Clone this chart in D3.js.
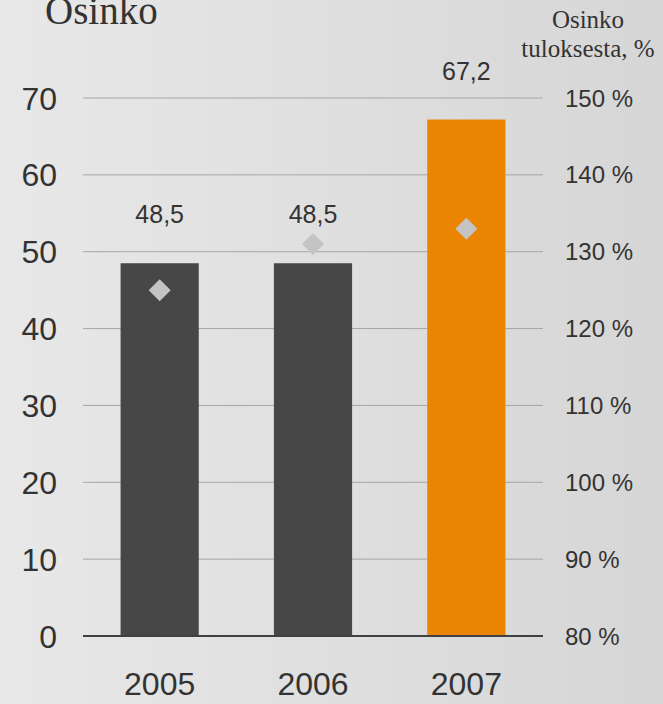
<!DOCTYPE html>
<html>
<head>
<meta charset="utf-8">
<script src="https://cdn.jsdelivr.net/npm/d3@7"></script>
<style>
  body { margin: 0; }
  svg { display: block; }
</style>
</head>
<body>
<script>
var years = ['2005', '2006', '2007'];
var osinko = [48.5, 48.5, 67.2];
var osinkoTuloksesta = [125, 131, 133];
var leftTicks = [0, 10, 20, 30, 40, 50, 60, 70];
var rightTicks = [80, 90, 100, 110, 120, 130, 140, 150];
var barColors = ['#474747', '#474747', '#eb8400'];

var W = 663, H = 704;
var svg = d3.select('body').append('svg').attr('width', W).attr('height', H);

var grad = svg.append('defs').append('linearGradient').attr('id', 'bg')
  .attr('x1', '0%').attr('x2', '100%').attr('y1', '0%').attr('y2', '0%');
grad.append('stop').attr('offset', '0%').attr('stop-color', '#e8e8e8');
grad.append('stop').attr('offset', '100%').attr('stop-color', '#d6d6d6');
svg.append('rect').attr('width', W).attr('height', H).attr('fill', 'url(#bg)');

var x = d3.scaleBand().domain(years).range([83, 543]).paddingInner(0.49).paddingOuter(0.245);
var y = d3.scaleLinear().domain([0, 70]).range([636, 98]);
var yR = d3.scaleLinear().domain([80, 150]).range([636, 98]);

// grid
svg.selectAll('line.grid')
   .data(leftTicks.slice(1)).enter().append('line')
   .attr('class', 'grid')
   .attr('x1', 83).attr('x2', 543)
   .attr('y1', d => y(d)).attr('y2', d => y(d))
   .attr('stroke', '#a6a6a6').attr('stroke-width', 1);

// bars
svg.selectAll('rect.bar')
   .data(osinko).enter().append('rect')
   .attr('class', 'bar')
   .attr('x', (d, i) => x(years[i]))
   .attr('y', d => y(d))
   .attr('width', x.bandwidth())
   .attr('height', d => y(0) - y(d))
   .attr('fill', (d, i) => barColors[i]);

// baseline
svg.append('line')
   .attr('x1', 83).attr('x2', 543)
   .attr('y1', y(0)).attr('y2', y(0))
   .attr('stroke', '#404040').attr('stroke-width', 2);

// diamonds
svg.selectAll('path.diamond')
   .data(osinkoTuloksesta).enter().append('path')
   .attr('class', 'diamond')
   .attr('transform', (d, i) => 'translate(' + (x(years[i]) + x.bandwidth() / 2) + ',' + yR(d) + ')')
   .attr('d', 'M0,-11L11,0L0,11L-11,0Z')
   .attr('fill', '#c4c4c4');

// value labels
svg.selectAll('text.valor')
   .data(osinko).enter().append('text')
   .attr('class', 'valor')
   .attr('text-anchor', 'middle')
   .attr('x', (d, i) => x(years[i]) + x.bandwidth() / 2)
   .attr('y', d => y(d) - 40)
   .attr('font-family', 'Liberation Sans, Arial, sans-serif')
   .attr('font-size', 25)
   .attr('fill', '#333')
   .text(d => d.toFixed(1).replace('.', ','));

// left axis labels
svg.selectAll('text.left')
   .data(leftTicks).enter().append('text')
   .attr('class', 'left')
   .attr('text-anchor', 'end')
   .attr('x', 57)
   .attr('y', d => y(d))
   .attr('dy', '0.36em')
   .attr('font-family', 'Liberation Sans, Arial, sans-serif')
   .attr('font-size', 32)
   .attr('fill', '#333')
   .text(d => d);

// right axis labels
svg.selectAll('text.right')
   .data(rightTicks).enter().append('text')
   .attr('class', 'right')
   .attr('x', 565)
   .attr('y', d => yR(d))
   .attr('dy', '0.36em')
   .attr('font-family', 'Liberation Sans, Arial, sans-serif')
   .attr('font-size', 24)
   .attr('fill', '#333')
   .text(d => d + ' %');

// year labels
svg.selectAll('text.year')
   .data(years).enter().append('text')
   .attr('class', 'year')
   .attr('text-anchor', 'middle')
   .attr('x', d => x(d) + x.bandwidth() / 2)
   .attr('y', 695)
   .attr('font-family', 'Liberation Sans, Arial, sans-serif')
   .attr('font-size', 32)
   .attr('fill', '#333')
   .text(d => d);

// titles
svg.append('text')
   .attr('x', 45).attr('y', 24)
   .attr('font-family', 'Liberation Serif, Times New Roman, serif')
   .attr('font-size', 39)
   .attr('fill', '#333')
   .text('Osinko');

var rt = svg.append('text')
   .attr('text-anchor', 'middle')
   .attr('font-family', 'Liberation Serif, Times New Roman, serif')
   .attr('font-size', 25)
   .attr('fill', '#333');
rt.append('tspan').attr('x', 588).attr('y', 28).text('Osinko');
rt.append('tspan').attr('x', 588).attr('y', 57).text('tuloksesta, %');
</script>
</body>
</html>
